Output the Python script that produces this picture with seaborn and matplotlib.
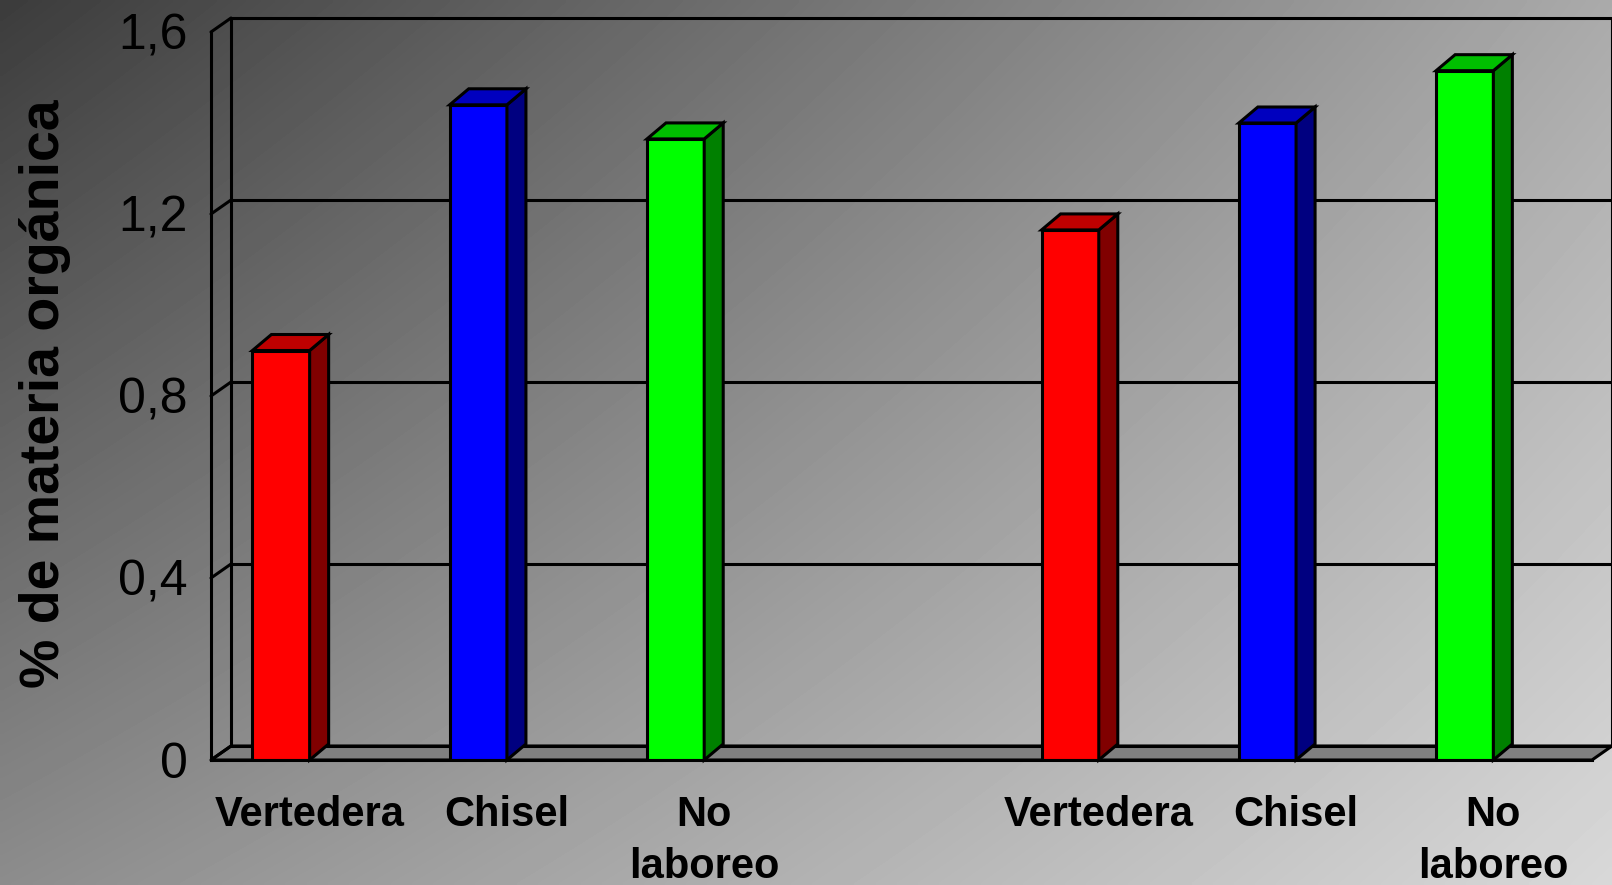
import numpy as np
import pandas as pd
import matplotlib
matplotlib.use("Agg")
import matplotlib.pyplot as plt
import seaborn as sns
from matplotlib.patches import Polygon
from matplotlib.lines import Line2D
from matplotlib.transforms import IdentityTransform
from matplotlib.colors import to_rgb

# ---------------- data ----------------
slots = ["s0", "s1", "s2", "s3", "s4", "s5", "s6"]
treatments = ["Vertedera", "Chisel", "No laboreo", "", "Vertedera", "Chisel", "No laboreo"]
tick_labels = ["Vertedera", "Chisel", "No\nlaboreo", "", "Vertedera", "Chisel", "No\nlaboreo"]
values = [0.90, 1.44, 1.365, np.nan, 1.165, 1.40, 1.515]
yticks = [0, 0.4, 0.8, 1.2, 1.6]
ytick_labels = ["0", "0,4", "0,8", "1,2", "1,6"]
ylabel = "% de materia orgánica"
hue_order = ["Vertedera", "Chisel", "No laboreo"]
front_colors = {"Vertedera": "#ff0000", "Chisel": "#0000ff", "No laboreo": "#00ff00"}

df = pd.DataFrame({"slot": slots, "tratamiento": treatments, "mo": values}).dropna()

# ---------------- style ----------------
sns.set_style("white")
plt.rcParams["font.family"] = ["Liberation Sans", "DejaVu Sans"]

LW = 2.2
W, H, DPI = 1612, 885, 100
fig = plt.figure(figsize=(W / DPI, H / DPI), dpi=DPI)

# gradient background
bg = fig.add_axes([0, 0, 1, 1], zorder=-5)
u = np.linspace(0, 1, 400)[None, :]
v = np.linspace(0, 1, 220)[:, None]
TL, TR, BL, BR = 60, 170, 140, 216
grad = TL * (1 - u) * (1 - v) + TR * u * (1 - v) + BL * (1 - u) * v + BR * u * v
bg.imshow(grad, extent=[0, 1, 0, 1], aspect="auto", cmap="gray", vmin=0, vmax=255,
          origin="upper", interpolation="bilinear")
bg.axis("off")

# main axes (front plane)
left_px, right_px, top_px, base_px = 211, 1592, 32, 760
ax = fig.add_axes([left_px / W, 1 - base_px / H, (right_px - left_px) / W, (base_px - top_px) / H])
ax.patch.set_visible(False)

sns.barplot(data=df, x="slot", y="mo", hue="tratamiento", order=slots, hue_order=hue_order,
            palette=front_colors, dodge=False, width=0.29, saturation=1, errorbar=None,
            edgecolor="black", linewidth=LW, legend=False, ax=ax, zorder=3)

ax.set_xlim(-0.5, len(slots) - 0.5)
ax.set_ylim(0, 1.6)

# bars sit left of slot centre (3-D look)
bar_patches = list(ax.patches)
for p in bar_patches:
    p.set_x(p.get_x() - p.get_width() / 2)
    p.set_joinstyle("miter")

to_disp = ax.transData.transform
wall_d = np.array([20.0, 14.0])
bar_d = np.array([19.0, 16.0])
idt = IdentityTransform()

# floor
x0, x1 = -0.5, len(slots) - 0.5
fl, fr = to_disp((x0, 0)), to_disp((x1, 0))
ax.add_patch(Polygon([fl, fr, fr + wall_d, fl + wall_d], closed=True, transform=idt,
                     facecolor="#808080", edgecolor="black", lw=LW, zorder=1, clip_on=False))

# back wall grid, edges and left diagonals
for y in yticks:
    a, b = to_disp((x0, y)), to_disp((x1, y))
    ax.add_line(Line2D([a[0] + wall_d[0], b[0] + wall_d[0]], [a[1] + wall_d[1], b[1] + wall_d[1]],
                       transform=idt, color="black", lw=LW, zorder=1.5, clip_on=False))
    ax.add_line(Line2D([a[0], a[0] + wall_d[0]], [a[1], a[1] + wall_d[1]],
                       transform=idt, color="black", lw=LW, zorder=1.5, clip_on=False))
for xe in (x0, x1):
    a, b = to_disp((xe, 0)), to_disp((xe, yticks[-1]))
    ax.add_line(Line2D([a[0] + wall_d[0], b[0] + wall_d[0]], [a[1] + wall_d[1], b[1] + wall_d[1]],
                       transform=idt, color="black", lw=LW, zorder=1.5, clip_on=False))

# 3-D sides and tops of the bars
for p in bar_patches:
    bx, bw, bh = p.get_x(), p.get_width(), p.get_height()
    c = np.array(to_rgb(p.get_facecolor()[:3]))
    BLp, BRp, TRp, TLp = to_disp([(bx, 0), (bx + bw, 0), (bx + bw, bh), (bx, bh)])
    ax.add_patch(Polygon([BRp, TRp, TRp + bar_d, BRp + bar_d], closed=True, transform=idt,
                         facecolor=c * 0.5, edgecolor="black", lw=LW, zorder=3, clip_on=False))
    ax.add_patch(Polygon([TLp, TRp, TRp + bar_d, TLp + bar_d], closed=True, transform=idt,
                         facecolor=c * 0.75, edgecolor="black", lw=LW, zorder=3, clip_on=False))

# axes styling
for s in ("top", "right"):
    ax.spines[s].set_visible(False)
for s in ("left", "bottom"):
    ax.spines[s].set_color("black")
    ax.spines[s].set_linewidth(LW)
    ax.spines[s].set_zorder(4)

ax.set_yticks(yticks, ytick_labels, fontsize=36)
ax.tick_params(axis="y", length=5.8, width=LW, direction="out", pad=11, colors="black")
ax.set_xticks(range(len(slots)), tick_labels, fontsize=30, fontweight="bold", linespacing=1.38)
ax.set_xticks(np.arange(len(slots) + 1) - 0.5, minor=True)
ax.tick_params(axis="x", which="major", length=0, pad=25, colors="black")
ax.tick_params(axis="x", which="minor", length=7.2, width=LW, direction="out", color="black")
ax.set_xlabel("")
ax.set_ylabel("")

fig.text(45 / W, 1 - 393.5 / H, ylabel, rotation=90, ha="center", va="center",
         fontsize=40, fontweight="bold", color="black")

fig.savefig("out.png", dpi=DPI)
